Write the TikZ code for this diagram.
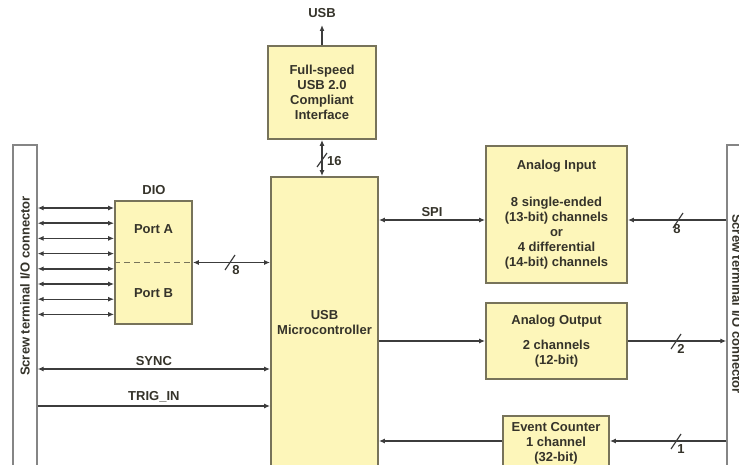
\documentclass[tikz,border=0pt]{standalone}
\usepackage{fontspec}
\setmainfont{Liberation Sans}
\usetikzlibrary{arrows.meta,calc}
\definecolor{boxfill}{HTML}{FDF6BA}
\definecolor{boxline}{HTML}{77735A}
\definecolor{wire}{HTML}{3C3C3C}
\definecolor{txt}{HTML}{35332A}
\definecolor{barline}{HTML}{858585}
\tikzset{
  blk/.style={draw=boxline, line width=1.8pt, fill=boxfill, align=center, inner sep=0pt, text=txt},
  bar/.style={draw=barline, line width=1.3pt, fill=white, inner sep=0pt},
  wireln/.style={draw=wire, line width=1.4pt},
  tipstyle/.style={>={Latex[length=6pt,width=5pt]}},
  lbl/.style={text=txt, inner sep=1pt},
  slash/.style={draw=wire, line width=1.2pt},
}
\begin{document}
\begin{tikzpicture}[x=1pt,y=-1pt,tipstyle,font=\fontsize{13}{15}\selectfont\bfseries]
\useasboundingbox (0,0) rectangle (739,465);
% connector bars
\node[bar, minimum width=24pt, minimum height=330pt] (lbar) at (25,310) {};
\node[lbl, rotate=90] (ltext) at (25,286) {Screw terminal I/O connector};
\node[bar, minimum width=24pt, minimum height=330pt] (rbar) at (739,310) {};
\node[lbl, rotate=-90] (rtext) at (737,304) {Screw terminal I/O connector};
% blocks
\node[blk, minimum width=108pt, minimum height=93pt] (usbif) at (322,92.5) {Full-speed\\USB 2.0\\Compliant\\Interface};
\node[blk, minimum width=107pt, minimum height=291pt] (micro) at (324.5,322.5) {USB\\Microcontroller};
\node[blk, minimum width=77pt, minimum height=123pt] (dio) at (153.5,262.5) {};
\node[lbl, text=txt] (porta) at (153.5,229) {Port A};
\node[lbl, text=txt] (portb) at (153.5,293) {Port B};
\node[lbl] (diolbl) at (154,190) {DIO};
\draw[boxline, line width=1.6pt, dash pattern=on 6pt off 4pt] (dio.west) -- (dio.east);
\node[blk, minimum width=141pt, minimum height=137pt] (ai) at (556.5,214.5)
  {Analog Input\\[22pt]8 single-ended\\(13-bit) channels\\or\\4 differential\\(14-bit) channels};
\node[blk, minimum width=141pt, minimum height=76pt] (ao) at (556.5,341)
  {Analog Output\\[10pt]2 channels\\(12-bit)};
\node[blk, minimum width=106pt, minimum height=55pt] (ec) at (556,443.5)
  {Event Counter\\1 channel\\(32-bit)};
% USB out
\coordinate (usbtop) at (322,25);
\draw[wireln,->] (usbif.north) -- (usbtop);
\node[lbl] (usblbl) at (322,13) {USB};
% usbif <-> micro
\draw[wireln,<->] (usbif.south) -- (usbif.south |- micro.north);
\draw[slash] (317,167) -- (327,153);
\node[lbl, anchor=west] (n16) at (326,161) {16};
% DIO lines
\foreach \i in {0,...,7}{
  \draw[wireln,<->] (lbar.east |- 0,{208+15.2*\i}) -- (dio.west |- 0,{208+15.2*\i});
}
\draw[wireln,<->] (dio.east) -- (micro.west |- dio.east);
\draw[slash] (225,270) -- (235,255);
\node[lbl] (n8a) at (236,270) {8};
% SYNC, TRIG_IN
\draw[wireln,<->] (lbar.east |- 0,369) -- (micro.west |- 0,369) node[lbl, midway, above=2pt] {SYNC};
\draw[wireln,->] (lbar.east |- 0,406) -- (micro.west |- 0,406) node[lbl, midway, above=2pt] {TRIG\_IN};
% SPI
\draw[wireln,<->] (micro.east |- 0,220) -- (ai.west |- 0,220) node[lbl, midway, above=2pt] {SPI};
\draw[wireln,->] (rbar.west |- 0,220) -- (ai.east |- 0,220);
\draw[slash] (673,228) -- (683,213);
\node[lbl] (n8b) at (677,229) {8};
% analog out
\draw[wireln,->] (micro.east |- ao.west) -- (ao.west);
\draw[wireln,->] (ao.east) -- (rbar.west |- ao.east);
\draw[slash] (671,349) -- (681,334);
\node[lbl] (n2) at (681,349) {2};
% event counter
\draw[wireln,->] (rbar.west |- 0,441) -- (ec.east |- 0,441);
\draw[wireln,->] (ec.west |- 0,441) -- (micro.east |- 0,441);
\draw[slash] (671,449) -- (681,434);
\node[lbl] (n1) at (681,449) {1};
\end{tikzpicture}
\end{document}
